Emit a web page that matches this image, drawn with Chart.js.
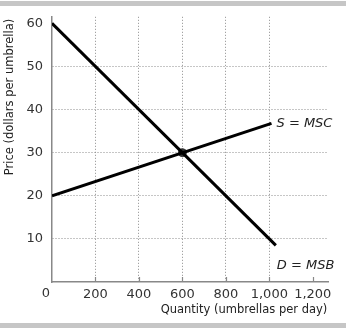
<!DOCTYPE html>
<html>
<head>
<meta charset="utf-8">
<script src="https://cdn.jsdelivr.net/npm/chart.js@4"></script>
<style>
  html, body { margin: 0; padding: 0; background: #fff; }
  canvas { display: block; }
</style>
</head>
<body>
<canvas id="chart" width="346" height="333"></canvas>
<script>
// data
const demandQty = [0, 1030];
const demandPrice = [60, 8.5];
const supplyQty = [0, 1010];
const supplyPrice = [20, 36.8];
const eqQty = [600];
const eqPrice = [30];

const xTicks = [200, 400, 600, 800, 1000, 1200];
const yTicks = [10, 20, 30, 40, 50, 60];
const xGrid = [200, 400, 600, 800, 1000];
const yGrid = [10, 20, 30, 40, 50];

const xTitle = 'Quantity (umbrellas per day)';
const yTitle = 'Price (dollars per umbrella)';
const supplyLabel = 'S = MSC';
const demandLabel = 'D = MSB';

const toPoints = (xs, ys) => xs.map((x, i) => ({ x: x, y: ys[i] }));

Chart.defaults.font.family = '"DejaVu Sans", sans-serif';
Chart.defaults.color = '#333';

const extras = {
    id: 'extras',
    beforeDraw(chart) {
        const ctx = chart.ctx;
        ctx.save();
        ctx.fillStyle = '#c6c6c6';
        ctx.fillRect(0, 1, chart.width, 5);
        ctx.fillRect(0, 323, chart.width, 5);
        ctx.restore();
    },
    afterDraw(chart) {
        const ctx = chart.ctx;
        const xs = chart.scales.x, ys = chart.scales.y;
        const area = chart.chartArea;
        ctx.save();

        // small tick marks inside the x axis
        ctx.strokeStyle = '#888';
        ctx.lineWidth = 1.2;
        xTicks.forEach(v => {
            const px = Math.round(xs.getPixelForValue(v)) + 0.5;
            ctx.beginPath();
            ctx.moveTo(px, area.bottom);
            ctx.lineTo(px, area.bottom - 5);
            ctx.stroke();
        });

        // corner zero
        ctx.fillStyle = '#333';
        ctx.font = '13px "DejaVu Sans"';
        ctx.textAlign = 'center';
        ctx.textBaseline = 'middle';
        ctx.fillText('0', area.left - 6, area.bottom + 12);

        // axis titles
        ctx.font = '11.5px "DejaVu Sans"';
        ctx.fillStyle = '#222';
        ctx.fillText(xTitle, 244, 310);
        ctx.save();
        ctx.translate(10, 97);
        ctx.rotate(-Math.PI / 2);
        ctx.fillText(yTitle, 0, 0);
        ctx.restore();

        // curve labels
        ctx.font = 'italic 13px "DejaVu Sans"';
        ctx.textAlign = 'left';
        ctx.fillStyle = '#222';
        ctx.fillText(supplyLabel,
            xs.getPixelForValue(supplyQty[1]) + 5,
            ys.getPixelForValue(supplyPrice[1]));
        ctx.fillText(demandLabel,
            xs.getPixelForValue(demandQty[1]) + 1,
            ys.getPixelForValue(demandPrice[1]) + 20);

        ctx.restore();
    }
};

new Chart(document.getElementById('chart'), {
    type: 'scatter',
    data: {
        datasets: [
            {
                data: toPoints(demandQty, demandPrice),
                showLine: true,
                borderColor: '#000',
                borderWidth: 3,
                pointRadius: 0
            },
            {
                data: toPoints(supplyQty, supplyPrice),
                showLine: true,
                borderColor: '#000',
                borderWidth: 3,
                pointRadius: 0
            },
            {
                data: toPoints(eqQty, eqPrice),
                pointRadius: 4,
                pointBackgroundColor: '#333',
                pointBorderColor: '#333'
            }
        ]
    },
    options: {
        responsive: false,
        animation: false,
        events: [],
        layout: { padding: { top: 16, right: 18, bottom: 0, left: 0 } },
        plugins: { legend: { display: false }, tooltip: { enabled: false } },
        scales: {
            x: {
                type: 'linear',
                min: 0,
                max: 1270,
                afterBuildTicks: s => { s.ticks = xTicks.map(v => ({ value: v })); },
                afterFit: s => { s.height = 51; },
                ticks: {
                    padding: 5,
                    font: { size: 13 },
                    color: '#333',
                    maxRotation: 0,
                    autoSkip: false,
                    callback: v => v.toLocaleString('en-US')
                },
                grid: {
                    drawTicks: false,
                    lineWidth: 1,
                    color: c => (c.tick && xGrid.includes(c.tick.value)) ? '#8c8c8c' : 'rgba(0,0,0,0)'
                },
                border: { display: true, color: '#888', width: 1.5, dash: [1, 2] }
            },
            y: {
                type: 'linear',
                min: 0,
                max: 61.5,
                afterBuildTicks: s => { s.ticks = yTicks.map(v => ({ value: v })); },
                afterFit: s => { s.width = 52; },
                ticks: {
                    padding: 9,
                    font: { size: 13 },
                    color: '#333',
                    autoSkip: false
                },
                grid: {
                    drawTicks: false,
                    lineWidth: 1,
                    color: c => (c.tick && yGrid.includes(c.tick.value)) ? '#8c8c8c' : 'rgba(0,0,0,0)'
                },
                border: { display: true, color: '#888', width: 1.5, dash: [1, 2] }
            }
        }
    },
    plugins: [extras]
});
</script>
</body>
</html>
